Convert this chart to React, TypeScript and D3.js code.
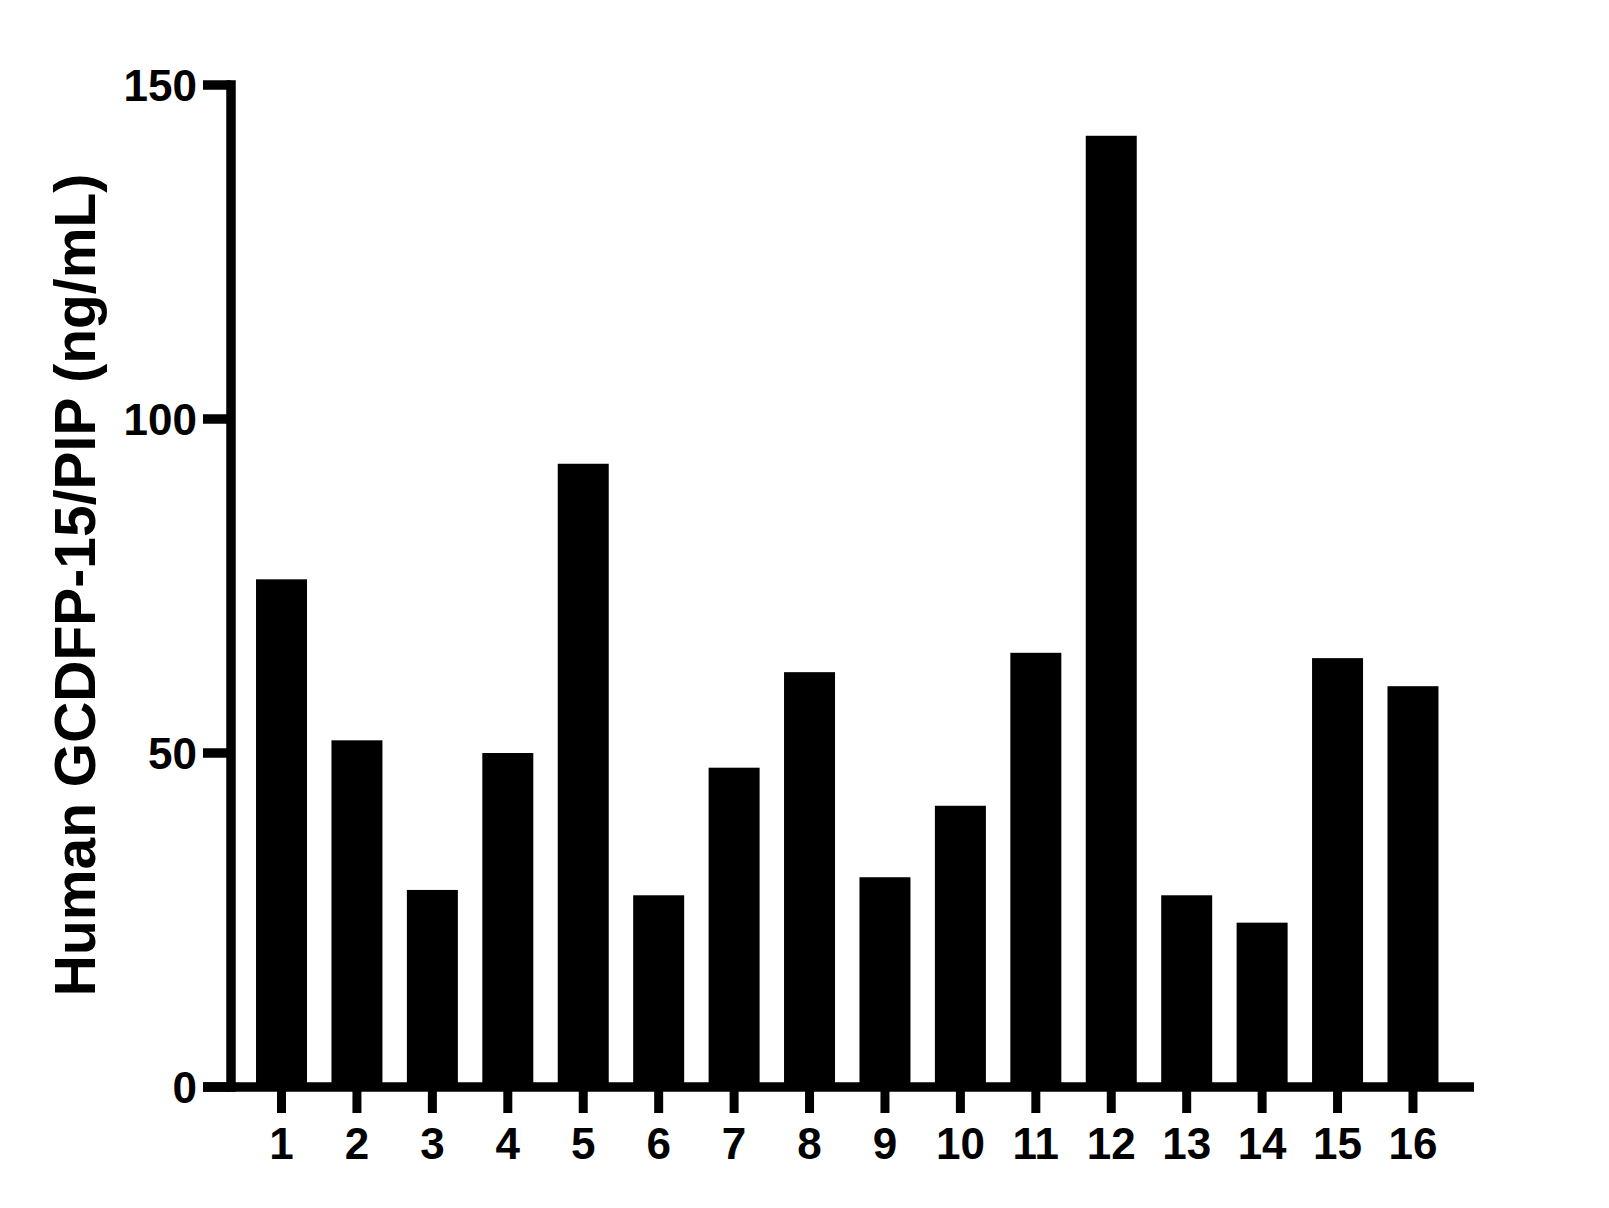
import React from "react";
import * as d3 from "d3";

const categories = ["1","2","3","4","5","6","7","8","9","10","11","12","13","14","15","16"];
const values = [76.0, 51.9, 29.5, 50.0, 93.3, 28.7, 47.8, 62.1, 31.4, 42.1, 65.0, 142.4, 28.7, 24.6, 64.2, 60.0];
const yTicks = [0, 50, 100, 150];
const yTitle = "Human GCDFP-15/PIP (ng/mL)";

const W = 1609;
const H = 1208;
const FONT = "'Liberation Sans', Arial, Helvetica, sans-serif";

export default function App() {
  const y = d3.scaleLinear().domain([0, 150]).range([1087, 85]);
  const x = d3
    .scaleBand<string>()
    .domain(categories)
    .range([243.8, 1450.7])
    .paddingInner(0.324)
    .paddingOuter(0.162);
  const axisX = 231;
  const lw = 9.5;
  const y0 = y(0);
  return (
    <svg
      width={W}
      height={H}
      style={{ position: "absolute", left: 0, top: 0, background: "#fff" }}
      fontFamily={FONT}
    >
      <rect x={0} y={0} width={W} height={H} fill="#fff" />
      {values.map((v, i) => (
        <rect
          key={i}
          x={x(categories[i])}
          y={y(v)}
          width={x.bandwidth()}
          height={y0 - y(v)}
          fill="#000"
        />
      ))}
      {/* Y axis */}
      <line x1={axisX} x2={axisX} y1={y(150) - lw / 2} y2={y0 + lw / 2} stroke="#000" strokeWidth={lw} />
      {yTicks.map((t) => (
        <g key={t}>
          <line x1={203} x2={axisX} y1={y(t)} y2={y(t)} stroke="#000" strokeWidth={lw} />
          <text
            x={197}
            y={y(t)}
            textAnchor="end"
            dominantBaseline="central"
            fontSize={44}
            fontWeight="bold"
            fill="#000"
          >
            {t}
          </text>
        </g>
      ))}
      {/* X axis */}
      <line x1={203} x2={1474} y1={y0} y2={y0} stroke="#000" strokeWidth={lw} />
      {categories.map((c) => {
        const cx = (x(c) as number) + x.bandwidth() / 2;
        return (
          <g key={c}>
            <line x1={cx} x2={cx} y1={y0} y2={1113} stroke="#000" strokeWidth={9} />
            <text x={cx} y={1159} textAnchor="middle" fontSize={44} fontWeight="bold" fill="#000">
              {c}
            </text>
          </g>
        );
      })}
      <text
        transform={`translate(95, 585) rotate(-90)`}
        textAnchor="middle"
        fontSize={57}
        fontWeight="bold"
        fill="#000"
      >
        {yTitle}
      </text>
    </svg>
  );
}
